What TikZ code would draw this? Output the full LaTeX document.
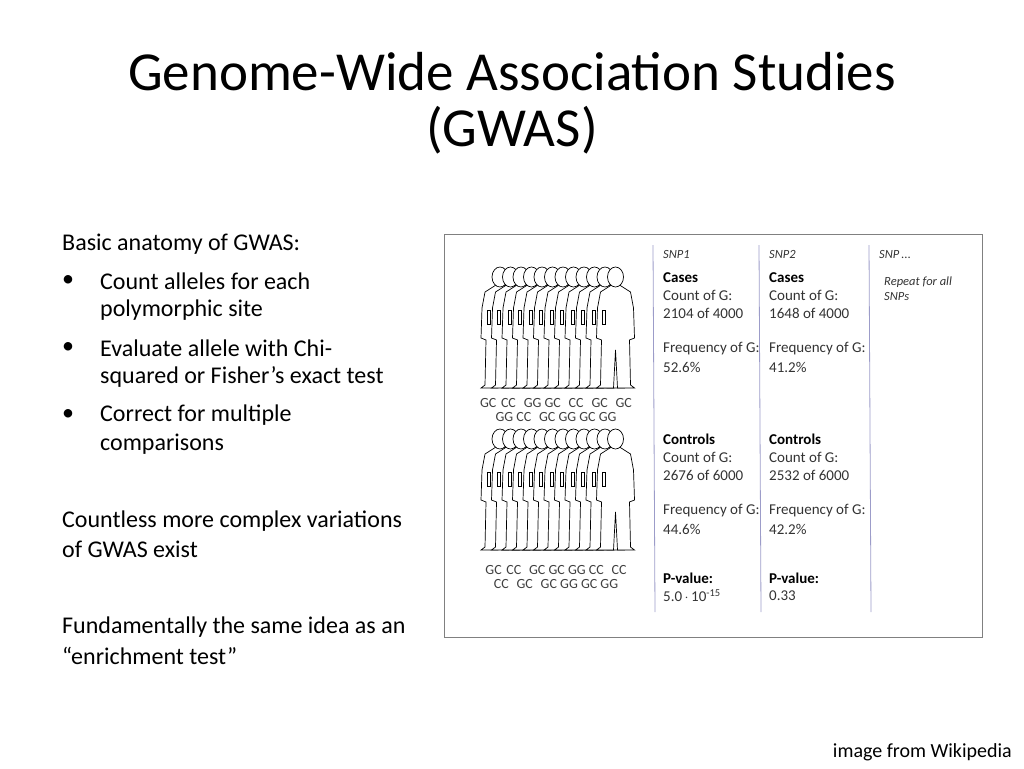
\documentclass[tikz,border=0pt]{standalone}
\usepackage{fontspec}
\setmainfont{Carlito}
\begin{document}
\begin{tikzpicture}[x=1pt,y=-1pt,
 body/.style={font=\fontsize{24}{28}\selectfont,anchor=west,inner sep=0pt},
 tb/.style={font=\fontsize{15}{17}\selectfont,anchor=west,inner sep=0pt,text=black!80},
 tbb/.style={tb,font=\fontsize{15}{17}\selectfont\bfseries,text=black},
 ti/.style={tb,font=\fontsize{12.5}{15}\selectfont\itshape},
 gt/.style={font=\fontsize{14}{16}\selectfont,inner sep=0pt,text=black!75},
 sep/.style={draw=blue!30!gray!60,line width=0.8pt},
 pers/.style={draw=black,fill=white,line width=0.7pt}]
\useasboundingbox (0,0) rectangle (1024,768);
\node[font=\fontsize{55}{56}\selectfont,align=center] (title) at (512,103) {Genome-Wide Association Studies\\(GWAS)};
\node[body] (l0) at (62,244) {Basic anatomy of GWAS:};
\foreach \y/\a/\b [count=\i] in {281/Count alleles for each/polymorphic site,348/Evaluate allele with Chi-/squared or Fisher’s exact test,415/Correct for multiple/comparisons}{
 \node[body] (bul\i) at (62,\y) {•};
 \node[body] (ba\i) at (100,\y) {\a};
 \node[body] (bb\i) at (100,\y+29) {\b};}
\node[body] (c1) at (62,521) {Countless more complex variations};
\node[body] (c2) at (62,549) {of GWAS exist};
\node[body] (f1) at (62,627) {Fundamentally the same idea as an};
\node[body] (f2) at (62,656) {“enrichment test”};
\node[font=\fontsize{20}{22}\selectfont,anchor=east,inner sep=0pt] (wiki) at (1012,752) {image from Wikipedia};
\draw[gray,line width=1pt] (444,234) rectangle (982,637);
\node (box) at (713,435) {};
\foreach \x in {653,759,869}{\draw[sep] (\x,245) -- (\x+2,612);}
% people
\foreach \gy in {268,430}{
 \foreach \k in {0,...,11}{
  \begin{scope}[shift={(500+\k*10.5,\gy)}]
  \path[pers] (-4,17) -- (-15,24) -- (-18,40) -- (-19,70) -- (-14,72) -- (-15,117) -- (-19,120) -- (-2,120) -- (0,82) -- (2,120) -- (19,120) -- (15,117) -- (14,72) -- (19,70) -- (18,40) -- (15,24) -- (4,17) -- cycle;
  \path[pers] (0,9) ellipse (8 and 10);
  \draw[line width=0.5pt] (-13,42) rectangle (-10,56);
  \end{scope}}}
\node[gt] (g1) at (556,403) {GC\,\,CC\,\, GG GC\,\, CC\,\, GC\,\, GC};
\node[gt] (g2) at (556,417) {GG CC\,\, GC GG GC GG};
\node[gt] (g3) at (556,570) {GC\,\,CC\,\, GC GC GG CC\,\, CC};
\node[gt] (g4) at (556,584) {CC\,\, GC\,\, GC GG GC GG};
% columns
\foreach \x/\s/\ca/\cb/\fa/\fb/\p [count=\i] in {663/SNP1/2104 of 4000/52.6\%/2676 of 6000/44.6\%/{5.0\,$\cdot$\,10\textsuperscript{-15}},769/SNP2/1648 of 4000/41.2\%/2532 of 6000/42.2\%/0.33}{
 \node[ti] (s\i) at (\x,254) {\s};
 \node[tbb] (cs\i) at (\x,278) {Cases};
 \node[tb] at (\x,295) {Count of G:};
 \node[tb] at (\x,313) {\ca};
 \node[tb] at (\x,349) {Frequency of G:};
 \node[tb] at (\x,367) {\cb};
 \node[tbb] (ct\i) at (\x,439) {Controls};
 \node[tb] at (\x,457) {Count of G:};
 \node[tb] at (\x,475) {\fa};
 \node[tb] at (\x,511) {Frequency of G:};
 \node[tb] at (\x,529) {\fb};
 \node[tbb] (pv\i) at (\x,578) {P-value:};
 \node[tb] at (\x,596) {\p};}
\node[ti] (s3) at (879,254) {SNP\,...};
\node[ti,align=left] (rep) at (884,289) {Repeat for all\\SNPs};
\end{tikzpicture}
\end{document}
